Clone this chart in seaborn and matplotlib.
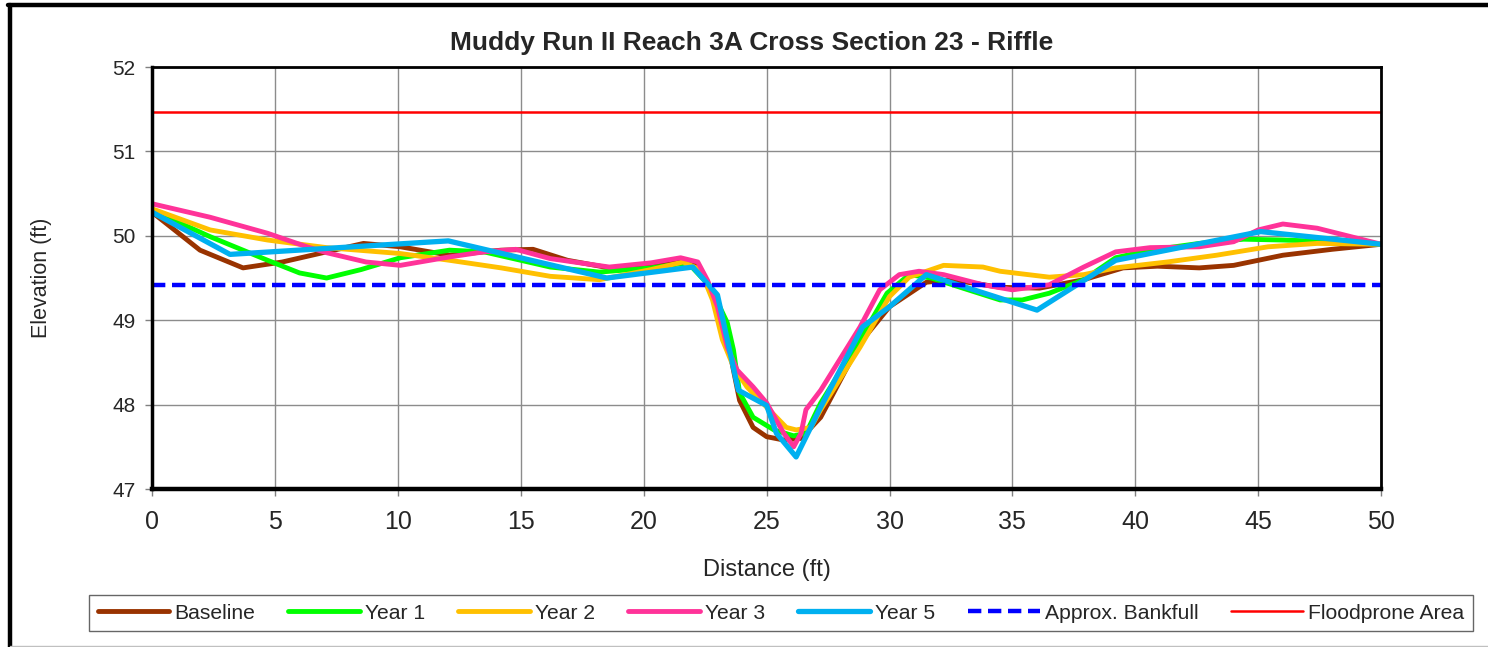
import matplotlib
matplotlib.use('Agg')
import matplotlib.pyplot as plt
import seaborn as sns
from matplotlib.lines import Line2D

# cross section survey data (distance ft, elevation ft)
baseline_x = [0, 1.95, 3.7, 5.3, 7.1, 8.6, 10.1, 12.1, 14.2, 15.5, 16.9, 18.6, 20.3, 21.5, 22.2, 22.7,
              23.4, 23.9, 24.45, 25, 25.7, 26.4, 27.2, 28.8, 30, 31.5, 32.5, 34.5, 36.1, 37.9, 39.5,
              40.9, 42.6, 44, 46, 48, 50]
baseline_y = [50.28, 49.83, 49.62, 49.69, 49.81, 49.91, 49.87, 49.77, 49.83, 49.84, 49.71, 49.62, 49.65,
              49.72, 49.65, 49.4, 48.77, 48.05, 47.73, 47.62, 47.58, 47.6, 47.85, 48.73, 49.16, 49.45,
              49.48, 49.39, 49.38, 49.48, 49.62, 49.64, 49.62, 49.65, 49.77, 49.84, 49.9]

year1_x = [0, 2.36, 4.7, 6.0, 7.1, 8.5, 10.1, 12.1, 13.5, 16.2, 18.2, 20.3, 21.8, 22.7, 23.4, 23.65,
           23.9, 24.45, 25.3, 26.1, 26.6, 27.2, 28.8, 29.9, 30.8, 31.7, 33.2, 34.5, 35.4, 36.5, 37.9,
           39.2, 40.6, 42.6, 44.4, 46, 48, 50]
year1_y = [50.3, 49.99, 49.71, 49.56, 49.5, 49.6, 49.74, 49.83, 49.81, 49.63, 49.57, 49.62, 49.68, 49.4,
           48.97, 48.65, 48.14, 47.85, 47.7, 47.63, 47.66, 48.02, 48.77, 49.32, 49.54, 49.5, 49.36,
           49.24, 49.24, 49.32, 49.48, 49.74, 49.83, 49.91, 49.96, 49.95, 49.93, 49.9]

year2_x = [0, 2.36, 4.7, 7.1, 10.1, 12.1, 14.2, 16.2, 18.2, 20.3, 21.6, 22.3, 22.8, 23.2, 23.65, 24.2,
           25, 25.8, 26.2, 26.8, 27.2, 28.8, 30, 30.8, 32.2, 33.8, 34.5, 36.5, 37.9, 39.2, 41.3, 43.3,
           45.4, 47.4, 50]
year2_y = [50.32, 50.07, 49.95, 49.86, 49.79, 49.71, 49.62, 49.52, 49.48, 49.6, 49.69, 49.6, 49.24, 48.77,
           48.45, 48.21, 47.97, 47.73, 47.7, 47.73, 47.94, 48.68, 49.28, 49.51, 49.65, 49.63, 49.58,
           49.51, 49.54, 49.62, 49.69, 49.77, 49.87, 49.91, 49.9]

year3_x = [0, 2.36, 4.7, 6.3, 7.1, 8.7, 10.1, 12.1, 13.5, 14.8, 16.2, 18.6, 20.3, 21.5, 22.2, 22.6, 23,
           23.4, 23.8, 24.45, 25, 25.7, 26.1, 26.4, 26.6, 27.2, 28.8, 29.6, 30.4, 31.2, 32.2, 33.8, 35.0,
           36.5, 37.9, 39.2, 40.6, 42.6, 44, 45, 46, 47.4, 50]
year3_y = [50.38, 50.22, 50.03, 49.87, 49.8, 49.69, 49.65, 49.75, 49.81, 49.84, 49.73, 49.63, 49.68,
           49.74, 49.69, 49.47, 49.16, 48.68, 48.41, 48.21, 48.02, 47.66, 47.5, 47.66, 47.94, 48.17,
           48.92, 49.36, 49.54, 49.58, 49.54, 49.42, 49.36, 49.42, 49.63, 49.81, 49.86, 49.87, 49.93,
           50.07, 50.14, 50.09, 49.9]

year5_x = [0, 3.17, 12.05, 18.5, 22, 23, 23.85, 25.0, 25.4, 26.2, 27.2, 28.9, 30, 31.5, 36, 39.2, 45.1, 50]
year5_y = [50.28, 49.78, 49.94, 49.5, 49.63, 49.3, 48.17, 47.99, 47.66, 47.38, 47.97, 48.92, 49.16,
           49.54, 49.12, 49.71, 50.05, 49.9]

bankfull_elev = 49.42
floodprone_elev = 51.47

sns.set_style('white')
plt.rcParams['font.family'] = ['Liberation Sans', 'DejaVu Sans']

fig = plt.figure(figsize=(14.88, 6.47), dpi=100)
ax = fig.add_axes([0.1022, 0.2442, 0.8260, 0.6522])

series = [
    ('Baseline', baseline_x, baseline_y, '#993300', 3.5),
    ('Year 1', year1_x, year1_y, '#00FF00', 3.5),
    ('Year 2', year2_x, year2_y, '#FFC000', 3.5),
    ('Year 3', year3_x, year3_y, '#FF3399', 3.5),
    ('Year 5', year5_x, year5_y, '#00B0F0', 3.8),
]
for name, xs, ys, col, lw in series:
    sns.lineplot(x=xs, y=ys, color=col, lw=lw, label=name, ax=ax, sort=False,
                 estimator=None, solid_joinstyle='round', solid_capstyle='round', legend=False)

ax.axhline(bankfull_elev, color='#0000FF', lw=3.2, ls=(0, (3.0, 1.5)), label='Approx. Bankfull')
ax.axhline(floodprone_elev, color='#FF0000', lw=1.8, label='Floodprone Area')

ax.set_xlim(0, 50)
ax.set_ylim(47, 52)
ax.set_xticks(range(0, 51, 5))
ax.set_yticks(range(47, 53))
ax.grid(True, color='#8c8c8c', lw=1.0)
ax.set_axisbelow(True)
ax.tick_params(axis='x', labelsize=18, direction='out', length=5, width=1, color='#808080', pad=10)
ax.tick_params(axis='y', labelsize=15, direction='out', length=5, width=1, color='#808080', pad=7)
ax.tick_params(bottom=True, left=True)
for side, w in [('left', 2.5), ('bottom', 3.2), ('top', 2.0), ('right', 2.0)]:
    ax.spines[side].set_visible(True)
    ax.spines[side].set_color('black')
    ax.spines[side].set_linewidth(w)

ax.set_xlabel('Distance (ft)', fontsize=17, labelpad=18)
ax.set_ylabel('Elevation (ft)', fontsize=15.5, labelpad=43)
ax.set_title('Muddy Run II Reach 3A Cross Section 23 - Riffle', fontsize=19,
             fontweight='bold', pad=12, x=0.4875)

handles, labels = ax.get_legend_handles_labels()
leg = fig.legend(handles, labels, loc='center', bbox_to_anchor=(0.5249, 0.0525), ncol=7,
                 fontsize=15.2, frameon=True, fancybox=False, edgecolor='#404040',
                 handlelength=3.4, handletextpad=0.25, columnspacing=1.55, borderpad=0.4)
leg.get_frame().set_linewidth(1.0)

# outer chart frame
fig.add_artist(Line2D([0.0067, 0.0067], [0.0, 0.9915], transform=fig.transFigure, color='black', lw=3.2))
fig.add_artist(Line2D([0.0055, 1.0], [0.9915, 0.9915], transform=fig.transFigure, color='black', lw=3.2))
fig.add_artist(Line2D([0.0067, 1.0], [0.0015, 0.0015], transform=fig.transFigure, color='#c0c0c0', lw=1.0))

fig.savefig('out.png', dpi=100)
